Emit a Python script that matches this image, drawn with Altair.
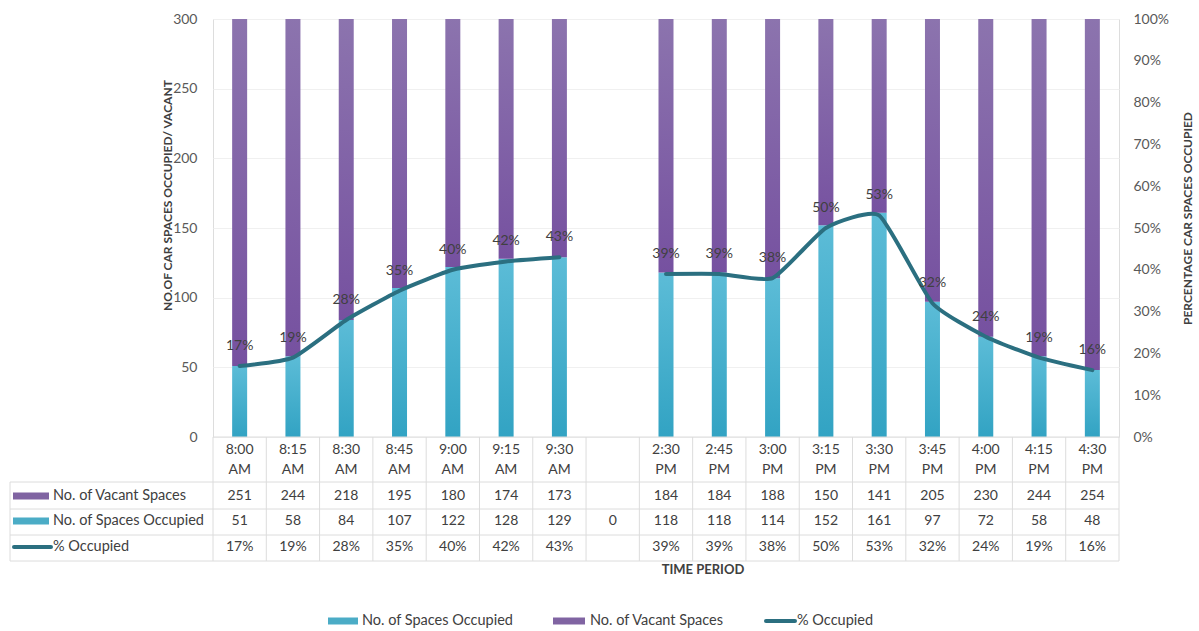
import altair as alt
import pandas as pd

cats = ["8:00 AM", "8:15 AM", "8:30 AM", "8:45 AM", "9:00 AM", "9:15 AM", "9:30 AM", " ",
        "2:30 PM", "2:45 PM", "3:00 PM", "3:15 PM", "3:30 PM", "3:45 PM", "4:00 PM", "4:15 PM", "4:30 PM"]
vacant = [251, 244, 218, 195, 180, 174, 173, None, 184, 184, 188, 150, 141, 205, 230, 244, 254]
occupied = [51, 58, 84, 107, 122, 128, 129, 0, 118, 118, 114, 152, 161, 97, 72, 58, 48]
pct = [17, 19, 28, 35, 40, 42, 43, None, 39, 39, 38, 50, 53, 32, 24, 19, 16]
sessions = ["AM"] * 7 + ["gap"] + ["PM"] * 9

rows = []
for i, c in enumerate(cats):
    parts = c.split(" ")
    rows.append(dict(
        cat=c, top=parts[0], bottom=parts[1] if len(parts) > 1 else "",
        vac=vacant[i], occ=occupied[i],
        total=occupied[i] + (vacant[i] if vacant[i] is not None else 0),
        pct=None if pct[i] is None else pct[i] / 100,
        session=sessions[i],
        vac_txt="" if vacant[i] is None else str(vacant[i]),
        occ_txt=str(occupied[i]),
        pct_txt="" if pct[i] is None else f"{pct[i]}%",
    ))
df = pd.DataFrame(rows)
one = pd.DataFrame([{"k": 1}])

W, H = 906, 418
FONT = "Lato"
TXT = "#404040"
GRIDC = "#dcdcdc"
C_OCC = "#4bacc6"
C_VAC = "#8064a2"
C_LINE = "#2b6f80"
FS = 14
FSL = 14.5

X = alt.X("cat:N", sort=None, scale=alt.Scale(domain=cats, paddingInner=0, paddingOuter=0), axis=None)
Y_LEFT = alt.Y("occ:Q", scale=alt.Scale(domain=[0, 300], nice=False),
               axis=alt.Axis(values=[0, 50, 100, 150, 200, 250, 300],
                             title="NO.OF CAR SPACES OCCUPIED/ VACANT",
                             titleFontWeight="bold", titleFontSize=12, titleColor=TXT, titleFont=FONT,
                             titleAngle=270, titleX=-46, titleY=176, titleBaseline="middle",
                             labelFont=FONT, labelFontSize=FS, labelColor="#595959", labelPadding=16,
                             domain=False, ticks=False, tickSize=0, grid=True, gridColor="#f0f0f0"))

grad_occ = alt.Gradient(gradient="linear", x1=0, x2=0, y1=0, y2=1,
                        stops=[alt.GradientStop(color="#5cbcd7", offset=0),
                               alt.GradientStop(color="#32a3c3", offset=1)])
grad_vac = alt.Gradient(gradient="linear", x1=0, x2=0, y1=0, y2=1,
                        stops=[alt.GradientStop(color="#8c74ae", offset=0),
                               alt.GradientStop(color="#7651a0", offset=1)])

base = alt.Chart(df)

occ_bars = base.mark_bar(size=15, clip=True, color=grad_occ).encode(x=X, y=Y_LEFT)
vac_bars = base.transform_filter("datum.vac != null").mark_bar(size=15, clip=True, color=grad_vac).encode(
    x=X, y=alt.Y("occ:Q"), y2="total:Q")

# table grid
vlines = base.mark_rule(color=GRIDC, strokeWidth=1).encode(
    x=alt.X("cat:N", sort=None, bandPosition=0, axis=None,
            scale=alt.Scale(domain=cats, paddingInner=0, paddingOuter=0)),
    y=alt.value(H), y2=alt.value(542))
vline_end = base.transform_filter(f"datum.cat == '{cats[-1]}'").mark_rule(color=GRIDC, strokeWidth=1).encode(
    x=alt.X("cat:N", sort=None, bandPosition=1, axis=None,
            scale=alt.Scale(domain=cats, paddingInner=0, paddingOuter=0)),
    y=alt.value(H), y2=alt.value(542))
hl = []
hl.append(alt.Chart(one).mark_rule(color=GRIDC).encode(x=alt.value(0), x2=alt.value(W), y=alt.value(H)))
for yy in [463, 490, 516, 542]:
    hl.append(alt.Chart(one).mark_rule(color=GRIDC).encode(x=alt.value(-203), x2=alt.value(W), y=alt.value(yy)))
hl.append(alt.Chart(one).mark_rule(color=GRIDC).encode(x=alt.value(-203), y=alt.value(463), y2=alt.value(542)))

def row_text(field, yy):
    return base.mark_text(font=FONT, fontSize=FS, color=TXT, baseline="middle").encode(
        x=X, y=alt.value(yy), text=f"{field}:N")

table_txt = [row_text("top", 431), row_text("bottom", 451), row_text("vac_txt", 477),
             row_text("occ_txt", 502), row_text("pct_txt", 528)]

def label(text, x, y, **kw):
    return alt.Chart(one).mark_text(text=text, font=FONT, fontSize=FSL, color=TXT, align="left",
                                    baseline="middle", **kw).encode(x=alt.value(x), y=alt.value(y))

def swatch(color, x1, x2, y, h=7):
    return alt.Chart(one).mark_rect(color=color).encode(
        x=alt.value(x1), x2=alt.value(x2), y=alt.value(y - h / 2), y2=alt.value(y + h / 2))

def lineswatch(x1, x2, y):
    return alt.Chart(one).mark_rule(color=C_LINE, strokeWidth=4, strokeCap="round").encode(
        x=alt.value(x1), x2=alt.value(x2), y=alt.value(y))

row_labels = [
    swatch(C_VAC, -200, -164, 477), label("No. of Vacant Spaces", -160, 477),
    swatch(C_OCC, -200, -164, 502), label("No. of Spaces Occupied", -160, 502),
    lineswatch(-199, -162, 528), label("% Occupied", -160, 528),
]

xtitle = alt.Chart(one).mark_text(text="TIME PERIOD", font=FONT, fontSize=13, fontWeight="bold",
                                  color=TXT, align="center", baseline="middle").encode(
    x=alt.value(490), y=alt.value(551))

legend = [
    swatch(C_OCC, 115, 145, 602), label("No. of Spaces Occupied", 149, 602),
    swatch(C_VAC, 340, 372, 602), label("No. of Vacant Spaces", 377, 602),
    lineswatch(553, 582, 602), label("% Occupied", 584, 602),
]

left = alt.layer(occ_bars, vac_bars, vlines, vline_end, *hl, *table_txt, *row_labels, xtitle, *legend)

Y_RIGHT = alt.Y("pct:Q", scale=alt.Scale(domain=[0, 1], nice=False),
                axis=alt.Axis(orient="right", values=[i / 10 for i in range(11)], format=".0%",
                              title="PERCENTAGE CAR SPACES OCCUPIED",
                              titleFontWeight="bold", titleFontSize=12, titleColor=TXT, titleFont=FONT,
                              titleAngle=270, titleX=68, titleY=199, titleBaseline="middle",
                              labelFont=FONT, labelFontSize=FS, labelColor="#595959", labelPadding=14,
                              domain=False, ticks=False, tickSize=0, grid=False))

pdata = base.transform_filter("datum.pct != null")
pline = pdata.mark_line(color=C_LINE, strokeWidth=4, interpolate="cardinal", tension=0.5,
                        strokeCap="round").encode(x=X, y=Y_RIGHT, detail="session:N")
plabels = pdata.mark_text(font=FONT, fontSize=FS, color=TXT, dy=-20).encode(
    x=X, y=alt.Y("pct:Q"), text="pct_txt:N")
right = alt.layer(pline, plabels)

chart = alt.layer(left, right).resolve_scale(y="independent").properties(
    width=W, height=H,
    autosize=alt.AutoSizeParams(type="none"),
    padding={"left": 213, "top": 19, "right": 80, "bottom": 194},
).configure_view(stroke=None).configure(background="white")

chart.save("out.html", embed_options={"renderer": "svg", "actions": False})
